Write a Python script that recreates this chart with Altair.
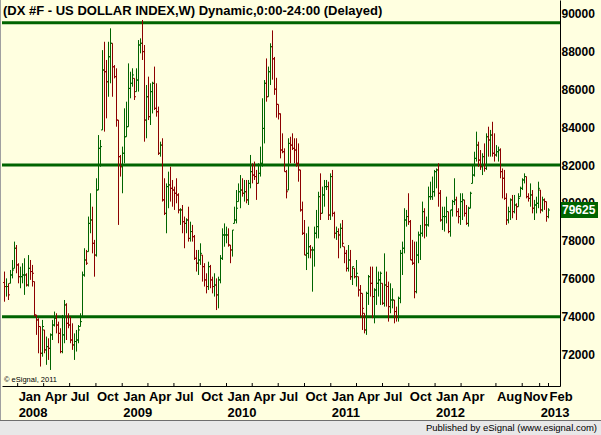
import altair as alt
import pandas as pd

# ---------------- data (weekly OHLC, DX #F) ----------------
first_week = "2007-11-16"
first_open = 75800

highs_a = [76380, 76020, 75760, 76460, 76990, 77960, 77780, 76820, 76640, 76820,
           77080, 76290, 77250, 76990, 76730, 75850, 74090, 73920, 73480, 73830,
           73300, 72950, 72860, 73120, 73830, 74270, 74180, 73740, 73390, 74090,
           74880, 74710, 74180, 74000, 73650, 73120, 73300, 73560, 74180, 76380,
           77610, 77520, 79280, 80510, 79800, 78050, 81300, 83580, 83320, 88060,
           88500, 87540, 88500, 89210, 88420, 87270, 87100, 84370, 82530, 82970,
           84990, 85340, 87360, 86920, 87100, 86570, 87100, 88590, 88680]
lows_a = [74790, 75060, 74880, 75760, 76020, 76550, 76290, 75760, 75500, 75760,
          75150, 75590, 75590, 75940, 75590, 74000, 73040, 72070, 71370, 71890,
          72070, 71460, 71720, 71190, 72770, 73480, 73120, 72600, 72070, 72070,
          72600, 72770, 73390, 72600, 72250, 71720, 72160, 72600, 73480, 74000,
          76110, 76730, 77430, 78400, 77340, 76110, 77170, 80680, 81910, 83850,
          83760, 84460, 85600, 86310, 85600, 86570, 84020, 78840, 81390, 80510,
          82090, 83490, 84020, 85520, 86130, 85430, 85870, 85870, 87890]
closes_a = [75590, 75590, 75150, 76200, 76460, 77610, 76730, 76110, 76110, 76200,
            76200, 75670, 76550, 76380, 76290, 74090, 73830, 73480, 72070, 73480,
            72250, 72420, 72330, 73040, 73560, 73920, 73560, 73120, 72160, 73040,
            74620, 73650, 73560, 72770, 72510, 72690, 72770, 73300, 73740, 76200,
            76990, 76820, 78920, 79100, 77870, 77250, 80680, 82880, 82970, 87010,
            86920, 86390, 87710, 88420, 87180, 86660, 84370, 82440, 81910, 82620,
            83490, 84020, 86040, 86310, 86750, 85600, 86480, 88330, 88420]

highs_b = [89650, 88330, 86220, 86660, 86310, 86390, 87190, 86310, 85080, 83230,
           83410, 81300, 81030, 81650, 81910, 81210, 80860, 81300, 80510, 79720,
           79890, 79280, 79190, 79800, 79010, 78840, 78310, 77520, 77520, 77870,
           77250, 76820, 76290, 76900, 76730, 76110, 76290, 76020, 76110, 77250,
           78660, 78920, 78750, 78660, 77780, 78570, 79800, 80680, 81030, 81470,
           81300, 81210, 81210, 81210, 82530, 82090, 82180, 81740, 82090, 82970,
           85520, 86480, 87620, 87190, 88420, 89100, 87700, 86600, 85200]
lows_b = [87540, 83230, 83410, 84370, 84110, 84720, 84900, 84550, 82530, 82440,
          80070, 79360, 78400, 79720, 80070, 79800, 79630, 79980, 79450, 78840,
          78400, 77610, 78400, 77960, 77960, 77960, 76990, 76380, 76200, 76730,
          75850, 75590, 75230, 75410, 75500, 75230, 75060, 74350, 74440, 75760,
          76990, 77690, 77870, 77690, 76820, 77170, 78920, 78920, 80070, 79720,
          80330, 80070, 79980, 79890, 80770, 81030, 81210, 80160, 81030, 81390,
          81910, 83140, 85340, 85600, 86220, 86500, 85700, 84500, 84400]
closes_b = [87980, 84370, 85600, 84550, 85870, 86310, 84990, 84810, 82620, 83050,
            80160, 79450, 80860, 80950, 80770, 80680, 80510, 80420, 79630, 79630,
            79010, 78920, 79100, 78130, 78490, 78220, 77080, 76820, 76990, 77340,
            76640, 75940, 75590, 76640, 75940, 75590, 75670, 75150, 75940, 77080,
            78310, 78310, 78310, 77780, 77520, 78570, 79100, 79720, 80590, 80680,
            80510, 80590, 80160, 81030, 81650, 81470, 81390, 81030, 81560, 82090,
            83930, 86310, 85600, 86920, 88240, 87600, 86000, 85200, 84700]

highs_c = [84720, 83670, 82880, 81740, 83410, 83490, 83670, 83410, 83410, 83140,
           81740, 80070, 79100, 78400, 78750, 77780, 77690, 78750, 79630, 80590,
           81560, 80860, 81210, 81210, 81120, 81560, 81740, 79540, 78750, 78660,
           78920, 79100, 77690, 77520, 77780, 77520, 76640, 76550, 76990, 76110,
           75670, 75230, 74180, 75320, 76200, 76640, 76640, 75500, 76640, 76380,
           76380, 75760, 77340, 76380, 75850, 75760, 75500, 74880, 74530, 75060,
           77520, 77960, 79720, 79630, 80510, 79100, 78050, 77960, 77960, 78490]
lows_c = [82350, 82620, 81650, 80240, 80680, 82090, 82790, 82090, 81910, 81120,
          79540, 78310, 77250, 76460, 77080, 77080, 75320, 76640, 78130, 78130,
          79100, 79450, 79800, 80680, 79100, 79100, 79280, 78130, 78050, 77080,
          77610, 77690, 76820, 76380, 76380, 75940, 75670, 76020, 75590, 75060,
          74000, 73300, 73120, 73040, 74620, 75060, 73920, 73650, 74620, 75060,
          74620, 74620, 74530, 74530, 73740, 74180, 74440, 73650, 73740, 73740,
          74710, 76200, 77340, 78750, 78840, 76990, 76730, 74970, 75230, 76820]
closes_c = [82790, 82700, 81650, 80590, 83140, 83050, 82880, 82790, 82090, 81740,
            79630, 78400, 77250, 77340, 77690, 77520, 77520, 78400, 78750, 80330,
            79450, 80420, 80860, 80860, 79360, 81390, 79450, 78400, 78490, 78310,
            78660, 77870, 77340, 76550, 76990, 76110, 76640, 76110, 76290, 75410,
            75230, 74440, 73300, 75230, 76110, 75760, 75060, 75410, 75760, 75940,
            76290, 74710, 75670, 75590, 74530, 74880, 74880, 74270, 74000, 74970,
            77340, 77610, 79100, 79280, 79010, 76990, 76820, 75320, 77250, 78310]

highs_d = [78840, 80070, 79720, 79280, 80860, 81120, 81390, 81740, 81820, 82090,
           80680, 79800, 79800, 80330, 79540, 79630, 80160, 81300, 80330, 79720,
           80510, 80510, 80160, 79890, 79800, 80590, 82000, 82700, 83760, 83230,
           82790, 82620, 83140, 83670, 84020, 83850, 84280, 83670, 83050, 82970,
           82880, 81820, 81740, 80510, 79800, 80240, 80420, 80420, 79980, 80510,
           80860, 81300, 81560, 81390, 80510, 81030, 80680, 80160, 80330, 81120,
           80680, 80330, 80240, 80070, 79720]
lows_d = [76990, 78220, 78130, 78220, 78750, 80160, 80160, 80330, 80770, 79800,
          79010, 78570, 78490, 78920, 78400, 78220, 79280, 79890, 79280, 78920,
          78840, 79100, 79280, 78840, 78750, 79720, 81030, 81390, 82180, 81910,
          81740, 81470, 81650, 81740, 82440, 82440, 82440, 82180, 82440, 82180,
          81300, 80240, 80160, 78840, 78920, 79100, 79190, 79450, 79100, 79800,
          80330, 80680, 81030, 80240, 80070, 79800, 79450, 79100, 79450, 79720,
          79450, 79540, 79630, 79010, 79190]
closes_d = [78400, 79540, 78840, 78840, 80330, 80330, 80590, 81650, 81740, 80510,
            79100, 79280, 79280, 79540, 78490, 79630, 80070, 80160, 79540, 79280,
            80070, 80160, 79450, 78920, 79720, 80510, 81470, 82350, 83050, 82260,
            81910, 82440, 81820, 83490, 83320, 83580, 82620, 82530, 82700, 82790,
            81650, 81300, 80240, 79100, 79540, 80160, 79540, 79890, 79800, 80240,
            80770, 81210, 81390, 80330, 80240, 80420, 79720, 79890, 79980, 80770,
            79630, 80160, 80070, 79280, 79625]

support_levels = [89500, 82000, 74000]
y_tick_values = [72000, 74000, 76000, 78000, 80000, 82000, 84000, 86000, 88000, 90000]

month_tick_dates = ["2008-01-01", "2008-04-01", "2008-07-01", "2008-10-01",
                    "2009-01-01", "2009-04-01", "2009-07-01", "2009-10-01",
                    "2010-01-01", "2010-04-01", "2010-07-01", "2010-10-01",
                    "2011-01-01", "2011-04-01", "2011-07-01", "2011-10-01",
                    "2012-01-01", "2012-04-01", "2012-08-01", "2012-11-01", "2013-02-01"]
month_tick_text = ["Jan", "Apr", "Jul", "Oct", "Jan", "Apr", "Jul", "Oct",
                   "Jan", "Apr", "Jul", "Oct", "Jan", "Apr", "Jul", "Oct",
                   "Jan", "Apr", "Aug", "Nov", "Feb"]
year_tick_dates = ["2008-01-01", "2009-01-01", "2010-01-01", "2011-01-01", "2012-01-01", "2013-01-01"]
year_tick_text = ["2008", "2009", "2010", "2011", "2012", "2013"]

title_text = "(DX #F - US DOLLAR INDEX,W) Dynamic,0:00-24:00 (Delayed)"
copyright_text = "\u00a9 eSignal, 2011"
publisher_text = "Published by eSignal (www.esignal.com)"

# ---------------- build table ----------------
highs = highs_a + highs_b + highs_c + highs_d
lows = lows_a + lows_b + lows_c + lows_d
closes = closes_a + closes_b + closes_c + closes_d
dates = pd.date_range(first_week, periods=len(closes), freq="7D")
opens = []
prev = first_open
for h, l, c in zip(highs, lows, closes):
    opens.append(min(max(prev, l), h))
    prev = c
df = pd.DataFrame({
    "date": dates.strftime("%Y-%m-%d"),
    "high": highs, "low": lows, "open": opens, "close": closes,
})
df["dir"] = ["up" if c >= o else "down" for c, o in zip(df["close"], df["open"])]

GREEN = "#006400"
RED = "#8C0000"
BG = "#FFFFE0"
FONT = "Liberation Sans"

xscale = alt.Scale(domain=[alt.DateTime(year=2007, month=11, date=7, hours=6, utc=True),
                           alt.DateTime(year=2013, month=3, date=13, hours=6, utc=True)],
                   nice=False)
yscale = alt.Scale(domain=[70344, 90703], nice=False, zero=False)
xaxis = alt.Axis(labels=False, ticks=False, grid=False, title=None,
                 domainColor="black", domainWidth=1)
yaxis = alt.Axis(orient="right", values=y_tick_values, format="d", ticks=False, grid=False,
                 title=None, labelPadding=1, labelFont=FONT, labelFontWeight="bold",
                 labelFontSize=12, labelColor="black", labelFlush=False, labelOverlap=False,
                 labelAlign="left", labelBaseline="middle", domainColor="black", domainWidth=1)
color = alt.Color("dir:N", scale=alt.Scale(domain=["up", "down"], range=[GREEN, RED]), legend=None)

base = alt.Chart(df)
X = alt.X("date:T", scale=xscale, axis=xaxis)

support = alt.Chart(pd.DataFrame({"level": support_levels})).mark_rule(
    color=GREEN, strokeWidth=3).encode(
    y=alt.Y("level:Q", scale=yscale, axis=yaxis), x=alt.value(0), x2=alt.value(558))

bars = base.mark_rule(strokeWidth=1).encode(
    x=X, y=alt.Y("low:Q", scale=yscale, axis=yaxis), y2="high:Q", color=color)
open_ticks = base.mark_rule(strokeWidth=1, xOffset=-1.5, x2Offset=0).encode(
    x=X, x2="date:T", y=alt.Y("open:Q", scale=yscale, axis=yaxis), color=color)
close_ticks = base.mark_rule(strokeWidth=1, xOffset=0, x2Offset=1.5).encode(
    x=X, x2="date:T", y=alt.Y("close:Q", scale=yscale, axis=yaxis), color=color)

tick_df = pd.DataFrame({"date": sorted(set(month_tick_dates + year_tick_dates))})
xticks = alt.Chart(tick_df).mark_rule(color="black", strokeWidth=1).encode(
    x=X, y=alt.value(383), y2=alt.value(386))

month_labels = alt.Chart(pd.DataFrame({"date": month_tick_dates, "t": month_tick_text})).mark_text(
    align="left", baseline="alphabetic", dx=1, font=FONT, fontWeight="bold", fontSize=13,
    color="black").encode(x=X, y=alt.value(401), text="t:N")
year_labels = alt.Chart(pd.DataFrame({"date": year_tick_dates, "t": year_tick_text})).mark_text(
    align="left", baseline="alphabetic", dx=1, font=FONT, fontWeight="bold", fontSize=13,
    color="black").encode(x=X, y=alt.value(417), text="t:N")

last_df = pd.DataFrame({"price": [closes[-1]], "t": [str(closes[-1])]})
price_box = alt.Chart(last_df).mark_rect(color=GREEN, yOffset=-8, y2Offset=8).encode(
    y=alt.Y("price:Q", scale=yscale, axis=yaxis), y2="price:Q",
    x=alt.value(559), x2=alt.value(596))
price_text = alt.Chart(last_df).mark_text(
    align="left", baseline="middle", font=FONT, fontWeight="bold", fontSize=12,
    color="white").encode(y=alt.Y("price:Q", scale=yscale, axis=yaxis), x=alt.value(560),
                          text="t:N")

one = pd.DataFrame({"t": [title_text], "c": [copyright_text], "p": [publisher_text]})
title = alt.Chart(one).mark_text(align="left", baseline="alphabetic", font=FONT,
                                 fontWeight="bold", fontSize=13, color="black").encode(
    x=alt.value(1), y=alt.value(15), text="t:N")
copyright_mark = alt.Chart(one).mark_text(align="left", baseline="alphabetic", font=FONT,
                                          fontSize=7.5, color="black").encode(
    x=alt.value(2), y=alt.value(382), text="c:N")
strip = alt.Chart(one).mark_rect(color="#E8E8E8").encode(
    x=alt.value(-2), x2=alt.value(599), y=alt.value(420), y2=alt.value(435))
strip_line = alt.Chart(one).mark_rule(color="#6E6E6E", strokeWidth=1).encode(
    x=alt.value(-2), x2=alt.value(599), y=alt.value(420.5))
left_line = alt.Chart(one).mark_rule(color="#A0A0A0", strokeWidth=1).encode(
    x=alt.value(-1.5), y=alt.value(0), y2=alt.value(420))
publisher = alt.Chart(one).mark_text(align="right", baseline="alphabetic", font=FONT,
                                     fontSize=9.5, color="black").encode(
    x=alt.value(595), y=alt.value(431), text="p:N")

chart = alt.layer(
    support, bars, open_ticks, close_ticks, xticks, month_labels, year_labels,
    price_box, price_text, title, copyright_mark, strip, strip_line, left_line, publisher
).properties(
    width=558, height=386,
    padding={"left": 2, "top": 0, "right": 41, "bottom": 49},
    autosize=alt.AutoSizeParams(type="none"),
    background=BG,
).configure_view(stroke=None)

chart.save("out.html", embed_options={"renderer": "svg", "actions": False})
